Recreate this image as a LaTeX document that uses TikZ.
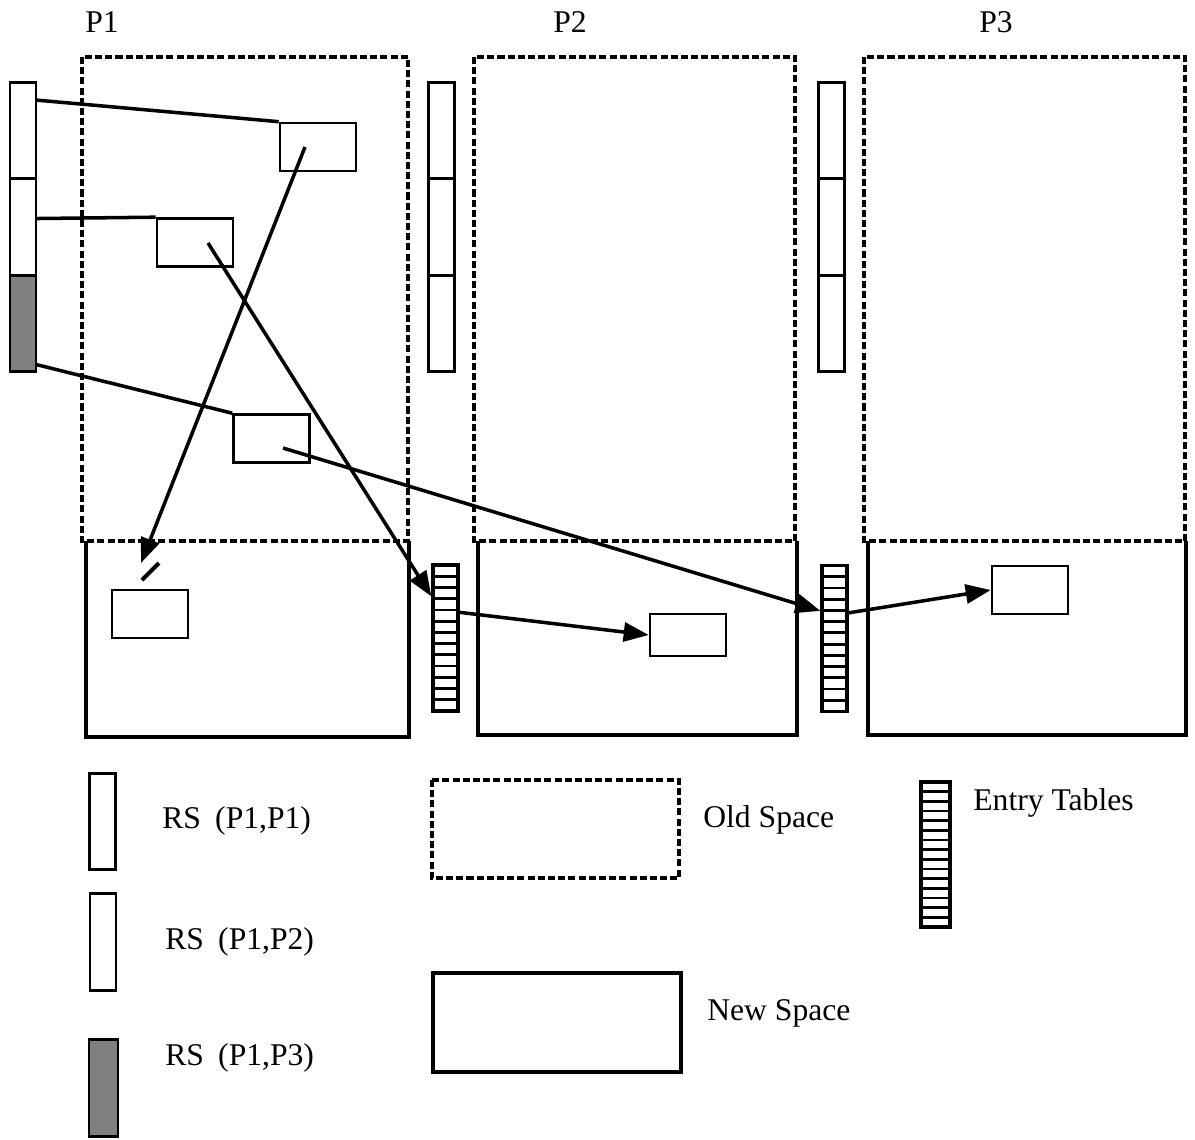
\documentclass[tikz,border=0pt]{standalone}
\usepackage{fontspec}
\setmainfont{Liberation Serif}
\usetikzlibrary{positioning,calc,arrows.meta}

\tikzset{
  oldspace/.style={line width=2.3pt, dash pattern=on 4pt off 1.8pt},
  newspace/.style={line width=2.2pt},
  objbox/.style={draw, line width=1.5pt, minimum width=1.52cm, minimum height=0.96cm, inner sep=0pt},
  rsseg/.style={draw, line width=1.7pt, minimum width=0.52cm, minimum height=1.93cm, inner sep=0pt, outer sep=0pt},
  entrytab/.style={draw, line width=1.9pt, minimum width=0.5cm, minimum height=2.92cm, inner sep=0pt,
    path picture={\pgfmathtruncatemacro\nm{#1-1}
      \foreach \k in {1,...,\nm}
        \draw[line width=1.6pt] ($(path picture bounding box.north west)!\k/#1!(path picture bounding box.south west)$)
          -- ($(path picture bounding box.north east)!\k/#1!(path picture bounding box.south east)$);}},
  entrytab/.default=13,
  ptr/.style={line width=2pt},
  ptrarrow/.style={ptr, -{Triangle[length=0.5cm,width=0.38cm]}},
  lbl/.style={font=\fontsize{18}{20}\selectfont, inner sep=0pt}
}

\begin{document}
\begin{tikzpicture}[x=0.02cm, y=-0.02cm]
  \useasboundingbox (0,0) rectangle (1195,1139);

  % Processor headings
  \node[lbl] (p1) at (102,22) {P1};
  \node[lbl] (p2) at (570,22) {P2};
  \node[lbl] (p3) at (996,22) {P3};

  % Old and new spaces
  \draw[oldspace] (82,57) rectangle (408,541);
  \draw[newspace] (86,541) -- (86,737) -- (409,737) -- (409,541);
  \draw[oldspace] (474,57) rectangle (795,541);
  \draw[newspace] (478,541) -- (478,735) -- (797,735) -- (797,541);
  \draw[oldspace] (864,57) rectangle (1185,541);
  \draw[newspace] (868,541) -- (868,735) -- (1186,735) -- (1186,541);

  % Remembered sets
  \node[rsseg] (rs11) at (23,130.3) {};
  \node[rsseg, below=0pt of rs11] (rs12) {};
  \node[rsseg, below=0pt of rs12, fill=black!50] (rs13) {};
  \node[rsseg] (rs21) at (441.5,130.3) {};
  \node[rsseg, below=0pt of rs21] (rs22) {};
  \node[rsseg, below=0pt of rs22] (rs23) {};
  \node[rsseg] (rs31) at (831,130.3) {};
  \node[rsseg, below=0pt of rs31] (rs32) {};
  \node[rsseg, below=0pt of rs32] (rs33) {};

  % Objects
  \node[objbox] (objA) at (318,147) {};
  \node[objbox] (objB) at (195,242.5) {};
  \node[objbox] (objC) at (271.5,438.5) {};
  \node[objbox] (objD) at (150,614) {};
  \node[objbox, minimum height=0.84cm] (objE) at (688,635) {};
  \node[objbox] (objF) at (1030,590) {};

  % Entry tables
  \node[entrytab] (et1) at (445.5,638) {};
  \node[entrytab] (et2) at (834.5,638.5) {};

  % Pointers
  \coordinate (pA) at (305,147);
  \coordinate (pB) at (208,243);
  \coordinate (pC) at (283,448);
  \coordinate (dang) at (141,563);
  \draw[ptr] ([yshift=-0.36cm]rs11.north east) -- (objA.north west);
  \draw[ptr] ([yshift=-0.8cm]rs12.north east) -- (objB.north west);
  \draw[ptr] ([yshift=0.14cm]rs13.south east) -- (objC.north west);
  \draw[ptrarrow] (pA) -- (dang);
  \draw[line width=2.4pt] (142,580) -- (159,563);
  \draw[ptrarrow] (pB) -- ([yshift=-0.66cm]et1.north west);
  \draw[ptrarrow] ([yshift=-0.98cm]et1.north east) -- (objE.west);
  \draw[ptrarrow] (pC) -- ([yshift=-0.94cm]et2.north west);
  \draw[ptrarrow] ([yshift=-0.98cm]et2.north east) -- (objF.west);

  % Legend
  \node[rsseg, minimum height=1.92cm] (key11) at (102.5,821) {};
  \node[lbl, anchor=west] (key11txt) at (162,821) {RS\hspace{0.45em}(P1,P1)};
  \node[rsseg, minimum height=1.94cm] (key12) at (103,942) {};
  \node[lbl, anchor=west] (key12txt) at (165,942) {RS\hspace{0.45em}(P1,P2)};
  \node[rsseg, minimum height=1.94cm, minimum width=0.58cm, fill=black!50] (key13) at (103.5,1088) {};
  \node[lbl, anchor=west] (key13txt) at (165,1058) {RS\hspace{0.45em}(P1,P3)};
  \draw[oldspace] (432,780) rectangle (679,878);
  \node[lbl, anchor=west] (oldtxt) at (703,820) {Old Space};
  \draw[newspace] (433,973) rectangle (681,1072);
  \node[lbl, anchor=west] (newtxt) at (707,1013) {New Space};
  \node[entrytab=15, minimum width=0.58cm, minimum height=2.9cm] (keyet) at (935.5,854.5) {};
  \node[lbl, anchor=west] (ettxt) at (973,803) {Entry Tables};
\end{tikzpicture}
\end{document}
